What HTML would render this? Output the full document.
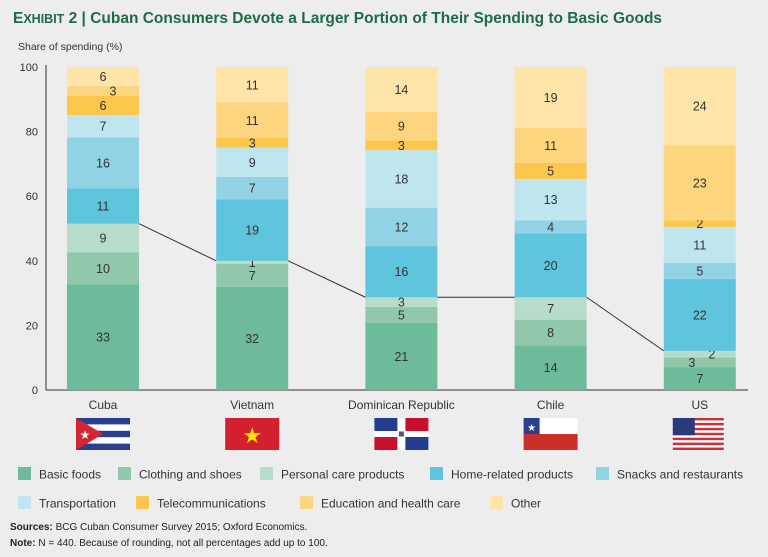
<!DOCTYPE html>
<html><head><meta charset="utf-8"><style>
body{margin:0;background:#ededed;font-family:"Liberation Sans",sans-serif;}
#wrap{position:relative;width:768px;height:557px;overflow:hidden;background:#ededed;}
</style></head><body>
<div id="wrap">
<svg id="svg" width="768" height="557" xmlns="http://www.w3.org/2000/svg">
<text x="13" y="23" font-size="15.5" font-weight="bold" fill="#1d6b48">E<tspan font-size="12.5">XHIBIT</tspan> 2 | Cuban Consumers Devote a Larger Portion of Their Spending to Basic Goods</text>
<text x="18" y="50" font-size="10.5" fill="#333">Share of spending (%)</text>
<g id="axes"></g><g id="bars"></g><g id="flags"></g><g id="legend"></g>
<text x="10" y="530" font-size="10" fill="#222"><tspan font-weight="bold">Sources:</tspan> BCG Cuban Consumer Survey 2015; Oxford Economics.</text>
<text x="10" y="546" font-size="10" fill="#222"><tspan font-weight="bold">Note:</tspan> N = 440. Because of rounding, not all percentages add up to 100.</text>
</svg>
</div>
<script>
const countries=["Cuba","Vietnam","Dominican Republic","Chile","US"];
const categories=["Basic foods","Clothing and shoes","Personal care products","Home-related products","Snacks and restaurants","Transportation","Telecommunications","Education and health care","Other"];
const basicFoods=[33,32,21,14,7];
const clothing=[10,7,5,8,3];
const personalCare=[9,1,3,7,2];
const homeRelated=[11,19,16,20,22];
const snacks=[16,7,12,4,5];
const transport=[7,9,18,13,11];
const telecom=[6,3,3,5,2];
const eduHealth=[3,11,9,11,23];
const other=[6,11,14,19,24];
const yTicks=[0,20,40,60,80,100];
const series=[basicFoods,clothing,personalCare,homeRelated,snacks,transport,telecom,eduHealth,other];
const colors=["#6dbb9b","#91c8ab","#b6dccb","#5ec5dc","#91d3e5","#bfe6ef","#fcc74c","#fdd57e","#fee4a8"];
const NS="http://www.w3.org/2000/svg";
const y0=390,y1=67,xL=46;
const y=v=>y0-(y0-y1)*v/100;
const barW=72;
const bx=i=>67+i*149.2;
function mk(tag,attrs,parent){const e=document.createElementNS(NS,tag);for(const k in attrs)e.setAttribute(k,attrs[k]);parent.appendChild(e);return e;}
const axes=document.getElementById('axes'),bars=document.getElementById('bars');
let a=mk('line',{x1:xL,y1:y1-2,x2:xL,y2:y0,stroke:'#333','stroke-width':1},axes);


a=mk('line',{x1:xL,y1:y0,x2:748,y2:y0,stroke:'#333','stroke-width':1},axes);


yTicks.forEach(t=>{const e=mk('text',{x:xL-8,y:y(t)+4,'font-size':11,'text-anchor':'end',fill:'#333'},axes);e.textContent=t;

});
const pcTops=[];
countries.forEach((c,i)=>{
  let total=0;series.forEach(s=>total+=s[i]);
  const sc=100/total;
  let cum=0;
  series.forEach((s,k)=>{
    const v=s[i];const yb=y(cum*sc),yt=y((cum+v)*sc);
    const r=mk('rect',{x:bx(i),y:yt,width:barW,height:yb-yt,fill:colors[k]},bars);
    
    
    let tx=bx(i)+barW/2;
    if(i==0&&k==7)tx+=10;
    if(i==4&&k==1)tx-=8;
    if(i==4&&k==2)tx+=12;
    const t=mk('text',{x:tx,y:(yb+yt)/2+4.5,'font-size':12.5,'text-anchor':'middle',fill:'#333'},bars);
    t.textContent=v;
    
    
    cum+=v;
    if(k==2)pcTops.push(y(cum*sc));
  });
  const l=mk('text',{x:bx(i)+barW/2,y:409,'font-size':12,'text-anchor':'middle',fill:'#333'},bars);
  l.textContent=c;
  
  
});
for(let i=0;i<countries.length-1;i++){
  const l=mk('line',{x1:bx(i)+barW,y1:pcTops[i],x2:bx(i+1),y2:pcTops[i+1],stroke:'#333','stroke-width':1},bars);
  
  
}
const fl=document.getElementById('flags');
const fw=54,fh=32,fy=418;
function flag(i){const g=mk('g',{transform:`translate(${bx(i)+9},${fy})`},fl);

return g;}
let g=flag(0);mk('rect',{width:fw,height:fh,fill:'#fff'},g);
for(let j=0;j<3;j++)mk('rect',{y:j*2*fh/5,width:fw,height:fh/5,fill:'#2a3f8f'},g);
mk('polygon',{points:`0,0 ${fh*0.85},${fh/2} 0,${fh}`,fill:'#d22630'},g);
mk('text',{x:9,y:21,'font-size':12,fill:'#fff','text-anchor':'middle'},g).textContent='★';
g=flag(1);mk('rect',{width:fw,height:fh,fill:'#d3202f'},g);
mk('text',{x:fw/2,y:25,'font-size':22,fill:'#fce300','text-anchor':'middle'},g).textContent='★';
g=flag(2);mk('rect',{width:fw,height:fh,fill:'#fff'},g);
mk('rect',{width:23,height:13,fill:'#233d8f'},g);mk('rect',{x:31,width:23,height:13,fill:'#c8102e'},g);
mk('rect',{y:19,width:23,height:13,fill:'#c8102e'},g);mk('rect',{x:31,y:19,width:23,height:13,fill:'#233d8f'},g);
mk('rect',{x:24.5,y:13.5,width:5,height:5,fill:'#556'},g);
g=flag(3);mk('rect',{width:fw,height:fh,fill:'#fff'},g);mk('rect',{y:fh/2,width:fw,height:fh/2,fill:'#c9302c'},g);
mk('rect',{width:16,height:fh/2,fill:'#2a3f8f'},g);
mk('text',{x:8,y:13,'font-size':10,fill:'#fff','text-anchor':'middle'},g).textContent='★';
g=flag(4);mk('rect',{width:fw-3,height:fh,fill:'#fff'},g);
for(let j=0;j<7;j++)mk('rect',{y:j*2*fh/13,width:fw-3,height:fh/13,fill:'#c8303a'},g);
mk('rect',{width:22,height:fh*7/13,fill:'#2b3a7a'},g);
const lg=document.getElementById('legend');
const lx=[18,118,260,430,596,18,136,300,490],ly=[474,474,474,474,474,503,503,503,503];
categories.forEach((c,k)=>{const gg=mk('g',{},lg);


mk('rect',{x:lx[k],y:ly[k]-7,width:13,height:13,fill:colors[k]},gg);
const t=mk('text',{x:lx[k]+21,y:ly[k]+4.5,'font-size':12,fill:'#333'},gg);t.textContent=c;});
</script>
</body></html>
